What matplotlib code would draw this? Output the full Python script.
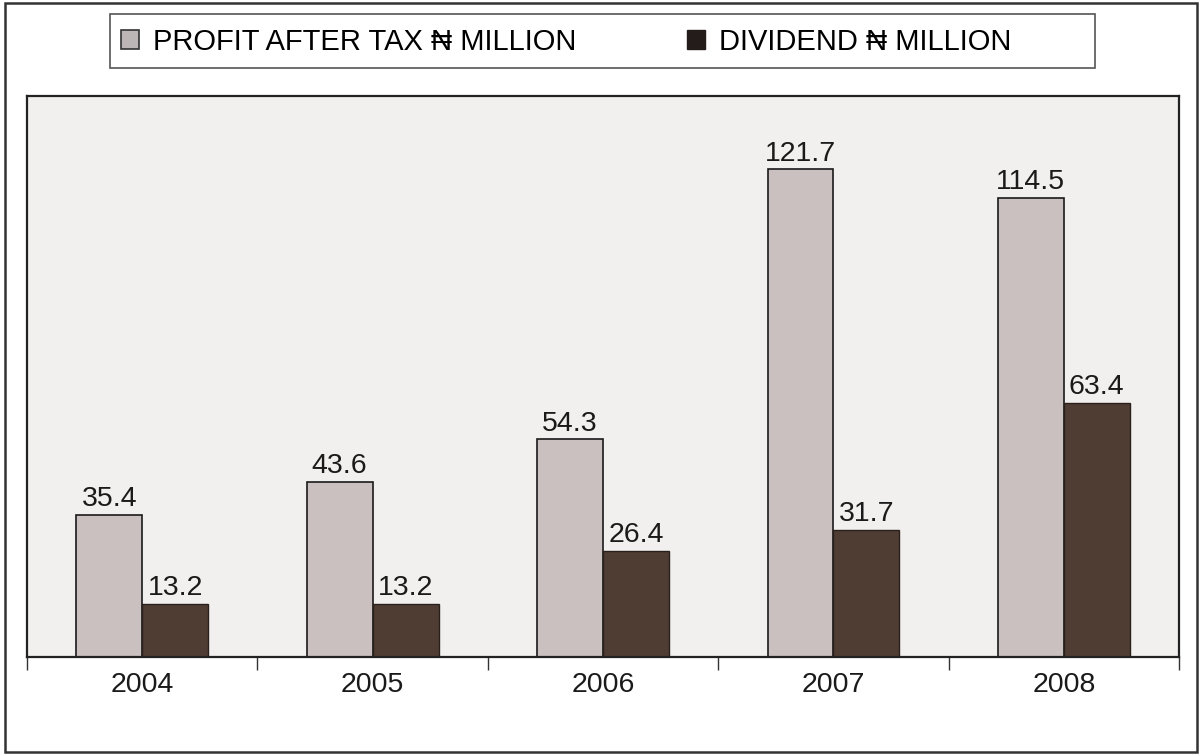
import numpy as np
import matplotlib.pyplot as plt
from matplotlib.patches import Rectangle, Patch

plt.rcParams['font.family'] = ['Liberation Sans', 'DejaVu Sans']

years = ['2004', '2005', '2006', '2007', '2008']
profit = [35.4, 43.6, 54.3, 121.7, 114.5]
dividend = [13.2, 13.2, 26.4, 31.7, 63.4]

profit_color = '#c9c0bf'
dividend_color = '#4f3d33'

fig = plt.figure(figsize=(12.01, 7.56), dpi=100)
ax = fig.add_axes([0.0225, 0.131, 0.9592, 0.742])
ax.set_facecolor('#f2f0ef')

x = np.arange(len(years))
w = 0.286
b1 = ax.bar(x - w / 2, profit, w, color=profit_color, edgecolor='#1a1a1a', linewidth=1.2, zorder=2)
b2 = ax.bar(x + w / 2, dividend, w, color=dividend_color, edgecolor='#2a201b', linewidth=1.0, zorder=2)

for bars, vals in ((b1, profit), (b2, dividend)):
    for r, v in zip(bars, vals):
        ax.annotate('%.1f' % v, (r.get_x() + r.get_width() / 2, v),
                    xytext=(0, 2), textcoords='offset points',
                    ha='center', va='bottom', fontsize=20.5, color='#1a1a1a')

ax.set_xlim(-0.5, len(years) - 0.5)
ax.set_ylim(0, 140)
ax.set_yticks([])
ax.set_xticks(np.arange(-0.5, len(years), 1.0))
ax.set_xticklabels([])
ax.set_xticks(x, minor=True)
ax.set_xticklabels(years, minor=True, fontsize=20.5, color='#1a1a1a')
ax.tick_params(axis='x', which='major', length=9, width=1, color='#333333')
ax.tick_params(axis='x', which='minor', length=0, pad=11)
for s in ax.spines.values():
    s.set_color('#222222')
    s.set_linewidth(1.6)

# legend box
fig.patches.append(Rectangle((110 / 1201, 1 - 68 / 756), 985 / 1201, 54 / 756,
                             transform=fig.transFigure, fill=False,
                             edgecolor='#555555', linewidth=1.2))
handles = [Patch(facecolor='#bcb6b6', edgecolor='#333333', linewidth=1.2),
           Patch(facecolor='#231c1a', edgecolor='#231c1a')]
fig.legend(handles, ['PROFIT AFTER TAX \u20a6 MILLION', 'DIVIDEND \u20a6 MILLION'],
           loc='center left', bbox_to_anchor=(121 / 1201, 1 - 42 / 756),
           ncol=2, frameon=False, fontsize=21, borderpad=0, borderaxespad=0,
           handlelength=0.6, handleheight=0.6, handletextpad=0.5,
           columnspacing=3.8)

# outer border
fig.patches.append(Rectangle((5 / 1201, 4 / 756), 1192 / 1201, 749 / 756,
                             transform=fig.transFigure, fill=False,
                             edgecolor='#333333', linewidth=1.8))

fig.savefig('out.png', dpi=100)
